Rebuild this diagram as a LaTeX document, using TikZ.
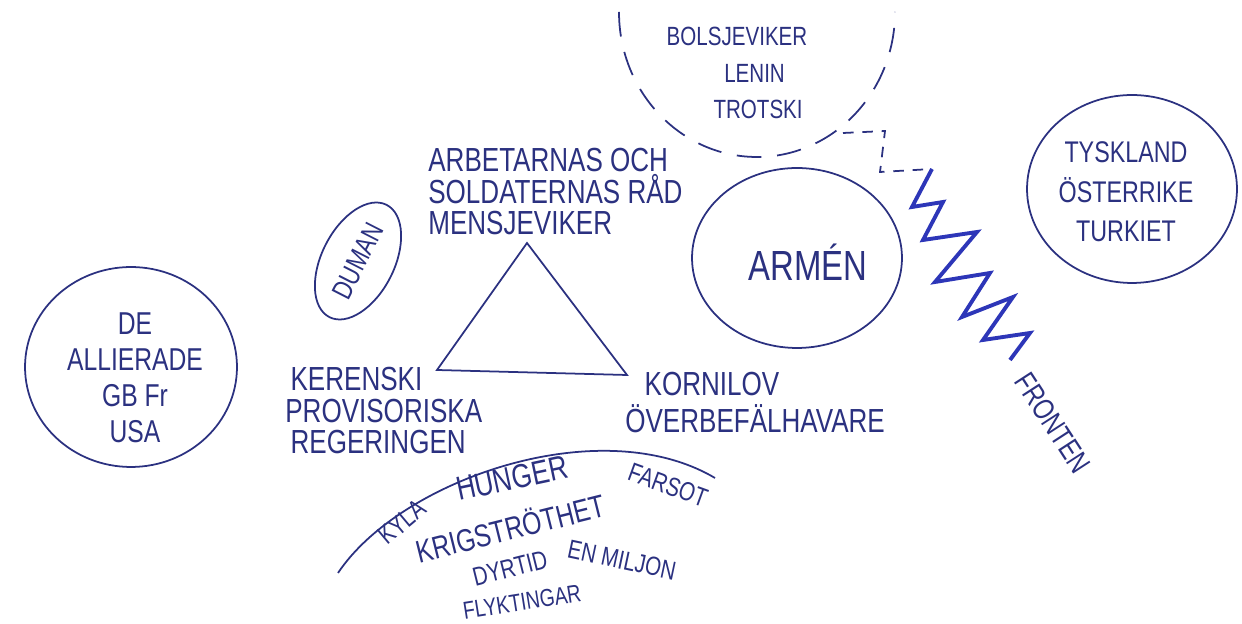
\documentclass[tikz,border=0pt]{standalone}
\usepackage{fontspec}
\newfontfamily\handfont[FakeStretch=0.78]{Liberation Sans}
\usetikzlibrary{shapes.geometric}
\definecolor{ink}{HTML}{2B3180}
\definecolor{pen}{HTML}{2D36B8}
\tikzset{
  hand/.style={font=\handfont\fontsize{19}{18}\selectfont, text=ink, inner sep=0pt},
  small/.style={hand, font=\handfont\fontsize{15}{21}\selectfont},
  tiny/.style={hand, font=\handfont\fontsize{14}{14}\selectfont},
  blob/.style={draw=ink, line width=1pt, ellipse, inner sep=0pt},
  line/.style={draw=ink, line width=1pt},
}
\begin{document}
\begin{tikzpicture}[x=0.02cm, y=-0.02cm]
\useasboundingbox (0,0) rectangle (1242,624);

\node[blob, minimum width=4.24cm, minimum height=4cm] (allierade) at (131,367) {};
\node[hand, align=center, font=\handfont\fontsize{18}{20.5}\selectfont] (allieradetxt) at (135,378) {DE\\ALLIERADE\\GB Fr\\USA};

\node[blob, rotate=63, minimum width=2.52cm, minimum height=1.45cm, font=\handfont\fontsize{16}{16}\selectfont, text=ink] (duman) at (358,261) {DUMAN};

\coordinate (top) at (527,243);
\coordinate (left) at (437,370);
\coordinate (right) at (627,375);
\draw[line] (top) -- (left) -- (right) -- cycle;

\node[hand, align=left, anchor=north west] (rad) at (428,148) {ARBETARNAS OCH\\SOLDATERNAS RÅD\\MENSJEVIKER};
\node[hand, align=left, anchor=north west] (kerenski) at (285,367) {\hspace*{3pt}KERENSKI\\PROVISORISKA\\\hspace*{3pt}REGERINGEN};
\node[hand, align=left, anchor=north west, font=\handfont\fontsize{19}{21}\selectfont] (kornilov) at (625,372) {\hspace*{11pt}KORNILOV\\ÖVERBEFÄLHAVARE};

\draw[line] (338,573) .. controls (400,480) and (600,410) .. (715,478);
\node[small, rotate=40] (kyla) at (402,522) {KYLA};
\node[hand, rotate=12] (hunger) at (512,478) {HUNGER};
\node[small, rotate=-20] (farsot) at (668,485) {FARSOT};
\node[hand, font=\handfont\fontsize{18}{18}\selectfont, rotate=14] (krig) at (510,527) {KRIGSTRÖTHET};
\node[small, rotate=14] (dyrtid) at (510,568) {DYRTID};
\node[small, rotate=-12] (miljon) at (622,560) {EN MILJON};
\node[tiny, rotate=9] (flykt) at (522,602) {FLYKTINGAR};

\draw[line, dashed, dash pattern=on 14pt off 9pt] (619,12) arc[start angle=180, end angle=0, x radius=138, y radius=145];
\node[small, align=center] (bolsjeviker) at (737,73) {BOLSJEVIKER\\\hspace*{20pt}LENIN\\\hspace*{24pt}TROTSKI};

\node[blob, minimum width=4.2cm, minimum height=3.6cm] (armen) at (797,258) {};
\node[hand, font=\handfont\fontsize{24}{24}\selectfont] (armentxt) at (808,262) {ARMÉN};

\node[blob, minimum width=4.2cm, minimum height=3.76cm] (tyskland) at (1132,189) {};
\node[hand, align=center, font=\handfont\fontsize{17}{22.5}\selectfont] (tysklandtxt) at (1126,192) {TYSKLAND\\ÖSTERRIKE\\TURKIET};

\coordinate (bolsend) at (843,133);
\coordinate (frontstart) at (932,169);
\draw[line, dashed, dash pattern=on 6pt off 5pt] (bolsend) -- (885,131) -- (880,172) -- (frontstart);
\draw[draw=pen, line width=2.2pt, line join=miter] (frontstart) -- (912,207) -- (943,202) -- (923,240) -- (977,232) -- (935,282) -- (990,273) -- (962,317) -- (1013,297) -- (983,340) -- (1030,333) -- (1010,360);
\node[hand, rotate=-57, font=\handfont\fontsize{17}{17}\selectfont] (fronten) at (1053,423) {FRONTEN};
\end{tikzpicture}
\end{document}
